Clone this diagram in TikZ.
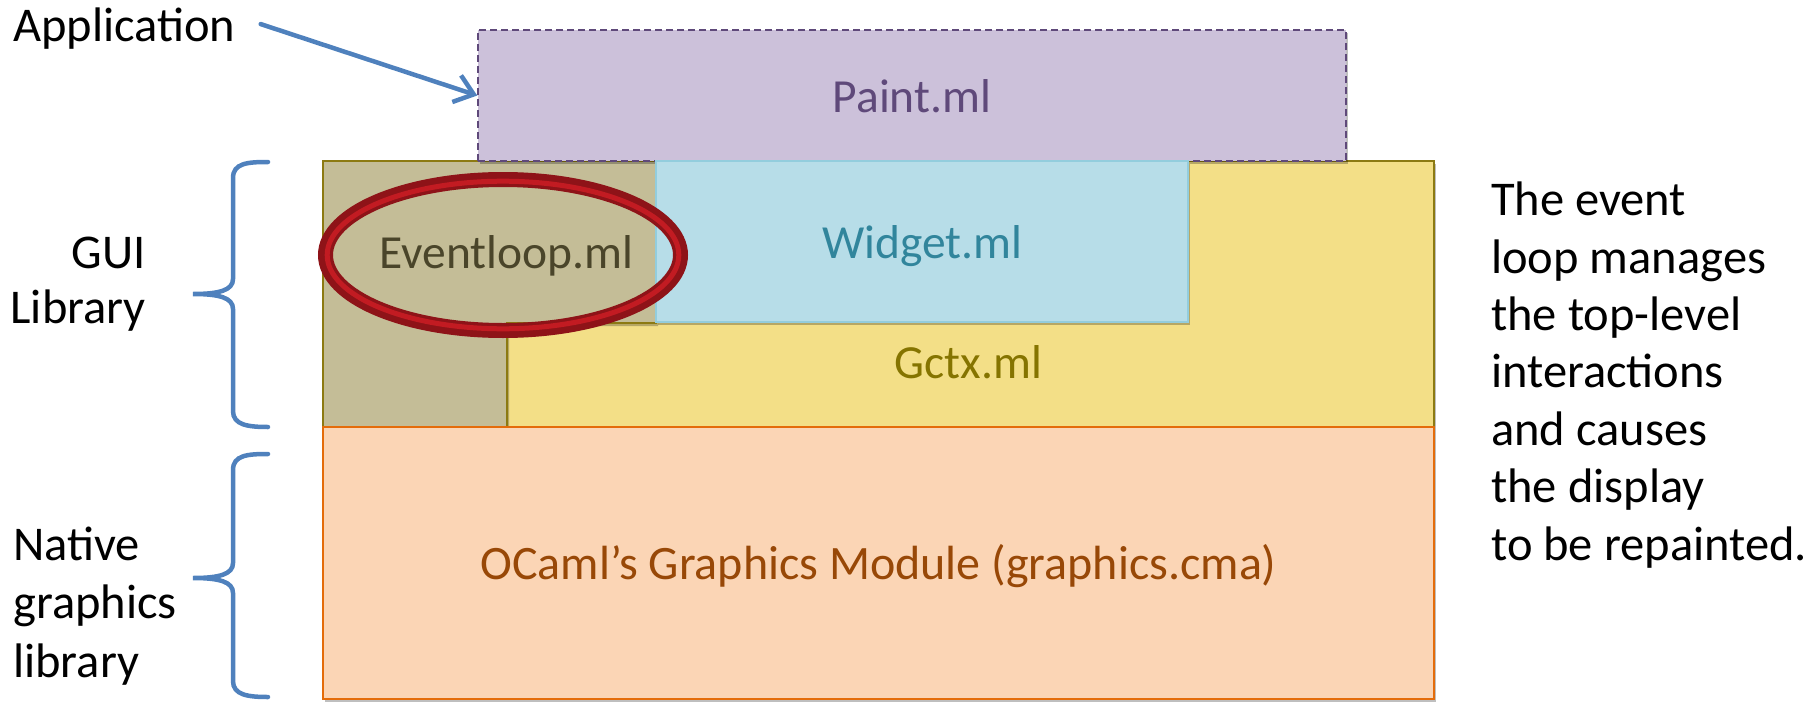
\documentclass[tikz,border=0pt]{standalone}
\usepackage{fontspec}
\setmainfont{Carlito}
\usetikzlibrary{arrows.meta,shapes.geometric,shadows}

\definecolor{paintfill}{HTML}{CCC1DA}
\definecolor{paintline}{HTML}{5F497A}
\definecolor{widgetfill}{HTML}{B7DDE8}
\definecolor{widgetline}{HTML}{93CDDD}
\definecolor{widgettext}{HTML}{31859C}
\definecolor{gctxfill}{HTML}{F3DF87}
\definecolor{gctxline}{HTML}{8C7A12}
\definecolor{gctxtext}{HTML}{857400}
\definecolor{loopfill}{HTML}{C4BD97}
\definecolor{looptext}{HTML}{4A452A}
\definecolor{ocamlfill}{HTML}{FBD5B5}
\definecolor{ocamlline}{HTML}{E46C0A}
\definecolor{ocamltext}{HTML}{984807}
\definecolor{ringdark}{HTML}{8E1318}
\definecolor{ringred}{HTML}{C21B22}
\definecolor{pointer}{HTML}{4F81BD}

\begin{document}
\begin{tikzpicture}[x=1pt,y=-1pt,
  lbl/.style={font=\fontsize{47.5}{57.4}\selectfont, inner sep=0pt},
  side/.style={font=\fontsize{48.5}{57.4}\selectfont, inner sep=0pt},
  softshadow/.style={drop shadow={shadow xshift=2pt, shadow yshift=-3pt, opacity=0.25, fill=black}},
  layer/.style={line width=1.5pt, inner sep=0pt, softshadow},
  bracket/.style={draw=pointer, line width=4.5pt, line cap=round},
  pointerline/.style={draw=pointer, line width=4.5pt, line cap=round, -{Straight Barb[length=18pt,width=28pt]}}]

\useasboundingbox (0,0) rectangle (1806,701);

% GUI library layer: Gctx underneath, Eventloop as an L-shaped block
\node[layer, draw=gctxline, fill=gctxfill, minimum width=1111pt, minimum height=266pt] (gctx) at (878.5,294) {};
\path[softshadow, draw=gctxline, fill=loopfill, line width=1.5pt]
  (323,161) -- (656,161) -- (656,323) -- (507,323) -- (507,427) -- (323,427) -- cycle;

% native graphics layer
\node[layer, draw=ocamlline, fill=ocamlfill, minimum width=1111pt, minimum height=272pt] (ocaml) at (878.5,563) {};

% application layer
\node[layer, draw=paintline, fill=paintfill, dashed, dash pattern=on 7pt off 4pt, minimum width=868pt, minimum height=131pt] (paint) at (912,95.5) {};

% widget layer
\node[layer, draw=widgetline, fill=widgetfill, minimum width=532pt, minimum height=161pt] (widget) at (922,241.5) {};

% module names
\node[lbl, text=paintline, anchor=base] (painttxt) at (912,112) {Paint.ml};
\node[lbl, text=widgettext, anchor=base] (widgettxt) at (922.5,258) {Widget.ml};
\node[lbl, text=gctxtext, anchor=base] (gctxtxt) at (968.5,378) {Gctx.ml};
\node[lbl, text=looptext, anchor=base] (looptxt) at (506.5,268) {Eventloop.ml};
\node[lbl, font=\fontsize{48}{57.4}\selectfont, text=ocamltext, anchor=base] (ocamltxt) at (878.5,579) {OCaml’s Graphics Module (graphics.cma)};

% highlight ring around the event loop: dark band with a brighter red core
\node[ellipse, draw=ringdark, line width=15pt,
      minimum width=355pt, minimum height=151pt, inner sep=0pt] (ring) at (503,255) {};
\draw[ringred, line width=5pt] (ring.center) ellipse [x radius=175.8, y radius=73.8];

% side labels (multi-line nodes sit on the baseline of their last line)
\node[side, anchor=base west] (app) at (13,42) {Application};
\node[side, anchor=base east, align=right, font=\fontsize{48.5}{55}\selectfont] (gui) at (146,323) {GUI\\Library};
\node[side, anchor=base west, align=left, font=\fontsize{48.5}{58.5}\selectfont] (native) at (13,677) {Native\\graphics\\library};
\node[side, anchor=base west, align=left] (note) at (1491,560) {The event\\loop manages\\the top-level\\interactions\\and causes\\the display\\to be repainted.};

% pointer from the label to the application box
\draw[pointerline] ([shift={(25,-5)}]app.east) -- (paint.west);

% braces
\draw[bracket] (268,162) .. controls (248,162) and (233,163) .. (233,178) -- (233,279)
  .. controls (233,290) and (220,294) .. (193,294)
  .. controls (220,294) and (233,298) .. (233,309) -- (233,411)
  .. controls (233,425) and (248,427) .. (268,427);
\draw[bracket] (268,454) .. controls (248,454) and (233,455) .. (233,470) -- (233,563)
  .. controls (233,574) and (220,578) .. (193,578)
  .. controls (220,578) and (233,582) .. (233,593) -- (233,681)
  .. controls (233,695) and (248,697) .. (268,697);
\end{tikzpicture}
\end{document}
